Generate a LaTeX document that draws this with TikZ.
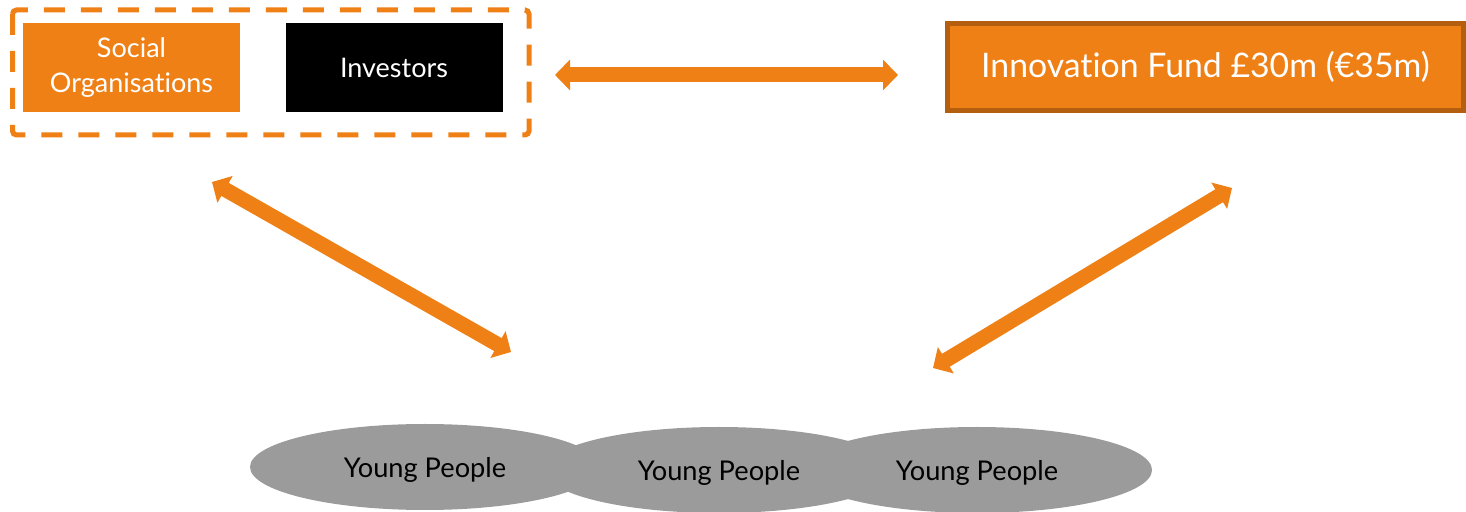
\documentclass[tikz,border=0pt]{standalone}
\usepackage{fontspec}
\setmainfont{Lato}[Ligatures=NoCommon]
\usetikzlibrary{arrows.meta,shapes.geometric}
\definecolor{fundorange}{HTML}{EF8016}
\definecolor{fundedge}{HTML}{B45F0F}
\definecolor{peoplegray}{HTML}{9B9B9B}
\tikzset{
  partnerbox/.style={rectangle,minimum width=108.5pt,minimum height=44.5pt,inner sep=0pt,text=white,align=center,font=\fontsize{13.5}{17.5}\selectfont},
  peoplenode/.style={ellipse,fill=peoplegray,minimum width=175pt,minimum height=43pt,inner sep=0pt},
  peoplelabel/.style={font=\fontsize{13.6}{16}\selectfont,yshift=-1.5pt},
  linkarrow/.style={fundorange,line width=7.5pt,{Triangle[width=15pt,length=7.5pt]}-{Triangle[width=15pt,length=7.5pt]}}
}
\begin{document}
\begin{tikzpicture}[x=0.5pt,y=-0.5pt]
	\useasboundingbox (0,0) rectangle (1466,512);
	\node[peoplenode] (yp1) at (425,467) {};
	\node[peoplenode] (yp2) at (719,470) {};
	\node[peoplenode] (yp3) at (977,470) {};
	\node[peoplelabel] at (yp1) {Young People};
	\node[peoplelabel] at (yp2) {Young People};
	\node[peoplelabel] at (yp3) {Young People};
	\node[partnerbox,fill=fundorange] (social) at (131.5,67.5) {Social\\Organisations};
	\node[partnerbox,fill=black] (investors) at (394,67.5) {Investors};
	\draw[fundorange,line width=2.5pt,dash pattern=on 10.5pt off 8pt,rounded corners=2pt] (12.5,10) rectangle (529,135);
	\node[rectangle,fill=fundorange,draw=fundedge,line width=2.5pt,minimum width=258pt,minimum height=43.5pt,inner sep=0pt,text=white,font=\fontsize{16.9}{20}\selectfont] (fund) at (1205.5,67) {Innovation Fund £30m (€35m)};
	\coordinate (h1) at (555,75);
	\coordinate (h2) at (898,75);
	\coordinate (l1) at (212,182);
	\coordinate (l2) at (511,352);
	\coordinate (r1) at (1232,188);
	\coordinate (r2) at (933,368);
	\draw[linkarrow] (h1)--(h2);
	\draw[linkarrow] (l1)--(l2);
	\draw[linkarrow] (r1)--(r2);
\end{tikzpicture}
\end{document}
